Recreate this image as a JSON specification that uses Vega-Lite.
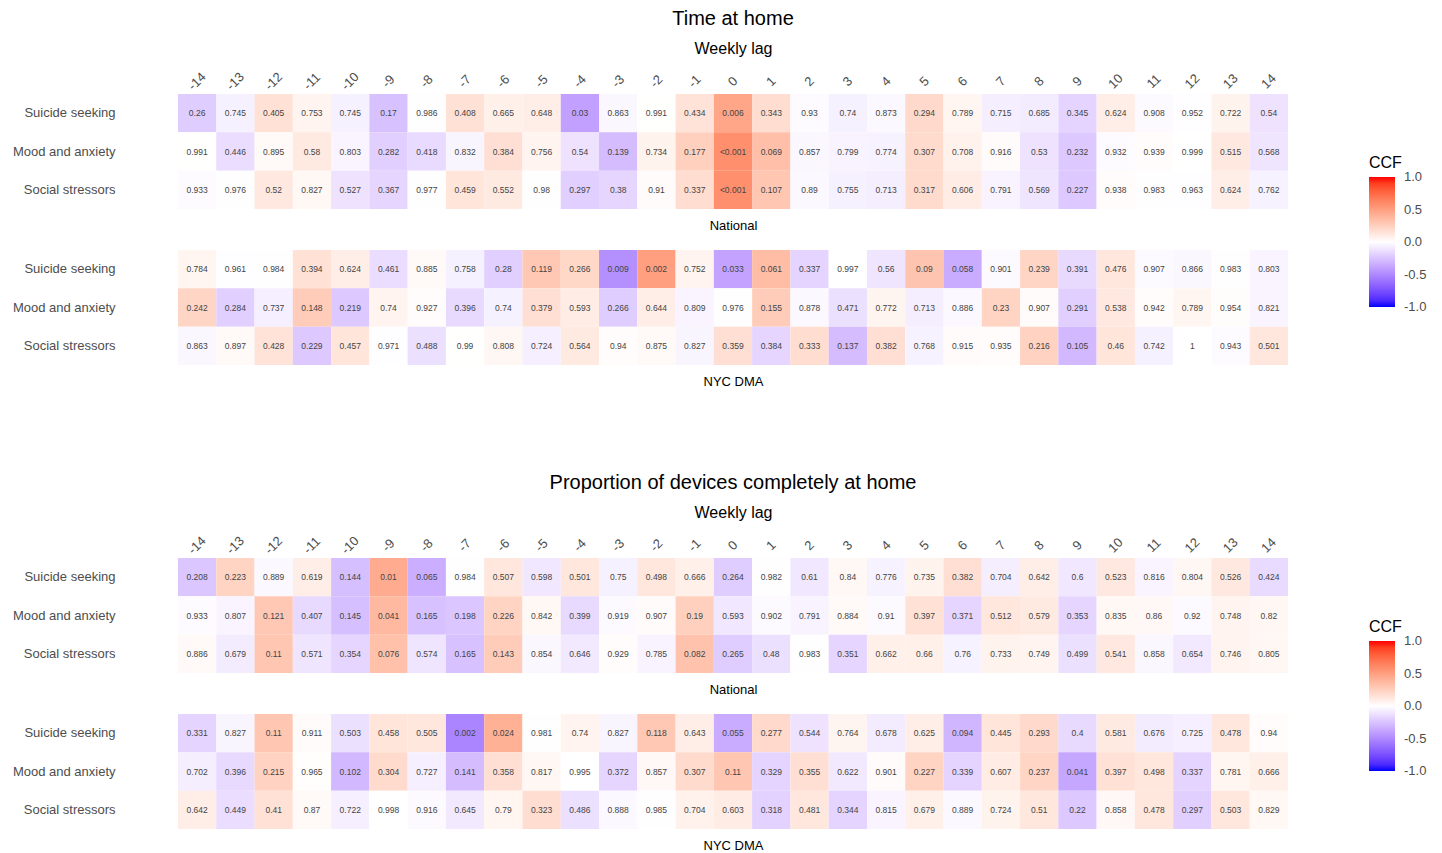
{
"$schema": "https://vega.github.io/schema/vega-lite/v6.json",
"padding": {"left": 12, "top": 9, "right": 5, "bottom": 5},
"config": {"font": "Liberation Sans", "view": {"stroke": null}},
"datasets": {"d": [
{"s":"T","g":"N","y":"Suicide seeking","lag":-14,"p":"0.26","c":-0.21},
{"s":"T","g":"N","y":"Suicide seeking","lag":-13,"p":"0.745","c":-0.06},
{"s":"T","g":"N","y":"Suicide seeking","lag":-12,"p":"0.405","c":0.16},
{"s":"T","g":"N","y":"Suicide seeking","lag":-11,"p":"0.753","c":0.06},
{"s":"T","g":"N","y":"Suicide seeking","lag":-10,"p":"0.745","c":-0.06},
{"s":"T","g":"N","y":"Suicide seeking","lag":-9,"p":"0.17","c":-0.26},
{"s":"T","g":"N","y":"Suicide seeking","lag":-8,"p":"0.986","c":0.005},
{"s":"T","g":"N","y":"Suicide seeking","lag":-7,"p":"0.408","c":0.16},
{"s":"T","g":"N","y":"Suicide seeking","lag":-6,"p":"0.665","c":0.08},
{"s":"T","g":"N","y":"Suicide seeking","lag":-5,"p":"0.648","c":0.09},
{"s":"T","g":"N","y":"Suicide seeking","lag":-4,"p":"0.03","c":-0.40},
{"s":"T","g":"N","y":"Suicide seeking","lag":-3,"p":"0.863","c":-0.035},
{"s":"T","g":"N","y":"Suicide seeking","lag":-2,"p":"0.991","c":0.002},
{"s":"T","g":"N","y":"Suicide seeking","lag":-1,"p":"0.434","c":0.15},
{"s":"T","g":"N","y":"Suicide seeking","lag":0,"p":"0.006","c":0.47},
{"s":"T","g":"N","y":"Suicide seeking","lag":1,"p":"0.343","c":0.18},
{"s":"T","g":"N","y":"Suicide seeking","lag":2,"p":"0.93","c":-0.015},
{"s":"T","g":"N","y":"Suicide seeking","lag":3,"p":"0.74","c":-0.06},
{"s":"T","g":"N","y":"Suicide seeking","lag":4,"p":"0.873","c":-0.027},
{"s":"T","g":"N","y":"Suicide seeking","lag":5,"p":"0.294","c":0.20},
{"s":"T","g":"N","y":"Suicide seeking","lag":6,"p":"0.789","c":0.05},
{"s":"T","g":"N","y":"Suicide seeking","lag":7,"p":"0.715","c":-0.07},
{"s":"T","g":"N","y":"Suicide seeking","lag":8,"p":"0.685","c":-0.08},
{"s":"T","g":"N","y":"Suicide seeking","lag":9,"p":"0.345","c":-0.18},
{"s":"T","g":"N","y":"Suicide seeking","lag":10,"p":"0.624","c":0.09},
{"s":"T","g":"N","y":"Suicide seeking","lag":11,"p":"0.908","c":-0.02},
{"s":"T","g":"N","y":"Suicide seeking","lag":12,"p":"0.952","c":-0.01},
{"s":"T","g":"N","y":"Suicide seeking","lag":13,"p":"0.722","c":0.065},
{"s":"T","g":"N","y":"Suicide seeking","lag":14,"p":"0.54","c":-0.12},
{"s":"T","g":"N","y":"Mood and anxiety","lag":-14,"p":"0.991","c":0.002},
{"s":"T","g":"N","y":"Mood and anxiety","lag":-13,"p":"0.446","c":-0.14},
{"s":"T","g":"N","y":"Mood and anxiety","lag":-12,"p":"0.895","c":0.027},
{"s":"T","g":"N","y":"Mood and anxiety","lag":-11,"p":"0.58","c":0.11},
{"s":"T","g":"N","y":"Mood and anxiety","lag":-10,"p":"0.803","c":-0.045},
{"s":"T","g":"N","y":"Mood and anxiety","lag":-9,"p":"0.282","c":-0.20},
{"s":"T","g":"N","y":"Mood and anxiety","lag":-8,"p":"0.418","c":-0.15},
{"s":"T","g":"N","y":"Mood and anxiety","lag":-7,"p":"0.832","c":-0.04},
{"s":"T","g":"N","y":"Mood and anxiety","lag":-6,"p":"0.384","c":0.17},
{"s":"T","g":"N","y":"Mood and anxiety","lag":-5,"p":"0.756","c":0.06},
{"s":"T","g":"N","y":"Mood and anxiety","lag":-4,"p":"0.54","c":-0.12},
{"s":"T","g":"N","y":"Mood and anxiety","lag":-3,"p":"0.139","c":-0.28},
{"s":"T","g":"N","y":"Mood and anxiety","lag":-2,"p":"0.734","c":0.065},
{"s":"T","g":"N","y":"Mood and anxiety","lag":-1,"p":"0.177","c":0.25},
{"s":"T","g":"N","y":"Mood and anxiety","lag":0,"p":"<0.001","c":0.58},
{"s":"T","g":"N","y":"Mood and anxiety","lag":1,"p":"0.069","c":0.34},
{"s":"T","g":"N","y":"Mood and anxiety","lag":2,"p":"0.857","c":-0.035},
{"s":"T","g":"N","y":"Mood and anxiety","lag":3,"p":"0.799","c":-0.05},
{"s":"T","g":"N","y":"Mood and anxiety","lag":4,"p":"0.774","c":-0.055},
{"s":"T","g":"N","y":"Mood and anxiety","lag":5,"p":"0.307","c":0.19},
{"s":"T","g":"N","y":"Mood and anxiety","lag":6,"p":"0.708","c":0.07},
{"s":"T","g":"N","y":"Mood and anxiety","lag":7,"p":"0.916","c":0.02},
{"s":"T","g":"N","y":"Mood and anxiety","lag":8,"p":"0.53","c":-0.12},
{"s":"T","g":"N","y":"Mood and anxiety","lag":9,"p":"0.232","c":-0.23},
{"s":"T","g":"N","y":"Mood and anxiety","lag":10,"p":"0.932","c":-0.015},
{"s":"T","g":"N","y":"Mood and anxiety","lag":11,"p":"0.939","c":0.015},
{"s":"T","g":"N","y":"Mood and anxiety","lag":12,"p":"0.999","c":0.0},
{"s":"T","g":"N","y":"Mood and anxiety","lag":13,"p":"0.515","c":0.12},
{"s":"T","g":"N","y":"Mood and anxiety","lag":14,"p":"0.568","c":-0.11},
{"s":"T","g":"N","y":"Social stressors","lag":-14,"p":"0.933","c":-0.015},
{"s":"T","g":"N","y":"Social stressors","lag":-13,"p":"0.976","c":0.005},
{"s":"T","g":"N","y":"Social stressors","lag":-12,"p":"0.52","c":0.12},
{"s":"T","g":"N","y":"Social stressors","lag":-11,"p":"0.827","c":0.04},
{"s":"T","g":"N","y":"Social stressors","lag":-10,"p":"0.527","c":-0.12},
{"s":"T","g":"N","y":"Social stressors","lag":-9,"p":"0.367","c":-0.17},
{"s":"T","g":"N","y":"Social stressors","lag":-8,"p":"0.977","c":0.005},
{"s":"T","g":"N","y":"Social stressors","lag":-7,"p":"0.459","c":0.14},
{"s":"T","g":"N","y":"Social stressors","lag":-6,"p":"0.552","c":0.11},
{"s":"T","g":"N","y":"Social stressors","lag":-5,"p":"0.98","c":0.005},
{"s":"T","g":"N","y":"Social stressors","lag":-4,"p":"0.297","c":-0.20},
{"s":"T","g":"N","y":"Social stressors","lag":-3,"p":"0.38","c":-0.17},
{"s":"T","g":"N","y":"Social stressors","lag":-2,"p":"0.91","c":0.02},
{"s":"T","g":"N","y":"Social stressors","lag":-1,"p":"0.337","c":0.18},
{"s":"T","g":"N","y":"Social stressors","lag":0,"p":"<0.001","c":0.58},
{"s":"T","g":"N","y":"Social stressors","lag":1,"p":"0.107","c":0.30},
{"s":"T","g":"N","y":"Social stressors","lag":2,"p":"0.89","c":-0.027},
{"s":"T","g":"N","y":"Social stressors","lag":3,"p":"0.755","c":-0.06},
{"s":"T","g":"N","y":"Social stressors","lag":4,"p":"0.713","c":-0.07},
{"s":"T","g":"N","y":"Social stressors","lag":5,"p":"0.317","c":0.19},
{"s":"T","g":"N","y":"Social stressors","lag":6,"p":"0.606","c":0.10},
{"s":"T","g":"N","y":"Social stressors","lag":7,"p":"0.791","c":-0.05},
{"s":"T","g":"N","y":"Social stressors","lag":8,"p":"0.569","c":-0.11},
{"s":"T","g":"N","y":"Social stressors","lag":9,"p":"0.227","c":-0.23},
{"s":"T","g":"N","y":"Social stressors","lag":10,"p":"0.938","c":0.015},
{"s":"T","g":"N","y":"Social stressors","lag":11,"p":"0.983","c":0.005},
{"s":"T","g":"N","y":"Social stressors","lag":12,"p":"0.963","c":-0.007},
{"s":"T","g":"N","y":"Social stressors","lag":13,"p":"0.624","c":0.09},
{"s":"T","g":"N","y":"Social stressors","lag":14,"p":"0.762","c":-0.055},
{"s":"T","g":"C","y":"Suicide seeking","lag":-14,"p":"0.784","c":0.05},
{"s":"T","g":"C","y":"Suicide seeking","lag":-13,"p":"0.961","c":-0.01},
{"s":"T","g":"C","y":"Suicide seeking","lag":-12,"p":"0.984","c":0.005},
{"s":"T","g":"C","y":"Suicide seeking","lag":-11,"p":"0.394","c":0.16},
{"s":"T","g":"C","y":"Suicide seeking","lag":-10,"p":"0.624","c":0.09},
{"s":"T","g":"C","y":"Suicide seeking","lag":-9,"p":"0.461","c":-0.14},
{"s":"T","g":"C","y":"Suicide seeking","lag":-8,"p":"0.885","c":0.027},
{"s":"T","g":"C","y":"Suicide seeking","lag":-7,"p":"0.758","c":-0.06},
{"s":"T","g":"C","y":"Suicide seeking","lag":-6,"p":"0.28","c":-0.20},
{"s":"T","g":"C","y":"Suicide seeking","lag":-5,"p":"0.119","c":0.29},
{"s":"T","g":"C","y":"Suicide seeking","lag":-4,"p":"0.266","c":0.21},
{"s":"T","g":"C","y":"Suicide seeking","lag":-3,"p":"0.009","c":-0.47},
{"s":"T","g":"C","y":"Suicide seeking","lag":-2,"p":"0.002","c":0.50},
{"s":"T","g":"C","y":"Suicide seeking","lag":-1,"p":"0.752","c":0.06},
{"s":"T","g":"C","y":"Suicide seeking","lag":0,"p":"0.033","c":-0.39},
{"s":"T","g":"C","y":"Suicide seeking","lag":1,"p":"0.061","c":0.35},
{"s":"T","g":"C","y":"Suicide seeking","lag":2,"p":"0.337","c":-0.18},
{"s":"T","g":"C","y":"Suicide seeking","lag":3,"p":"0.997","c":0.0},
{"s":"T","g":"C","y":"Suicide seeking","lag":4,"p":"0.56","c":-0.11},
{"s":"T","g":"C","y":"Suicide seeking","lag":5,"p":"0.09","c":0.31},
{"s":"T","g":"C","y":"Suicide seeking","lag":6,"p":"0.058","c":-0.35},
{"s":"T","g":"C","y":"Suicide seeking","lag":7,"p":"0.901","c":-0.02},
{"s":"T","g":"C","y":"Suicide seeking","lag":8,"p":"0.239","c":0.22},
{"s":"T","g":"C","y":"Suicide seeking","lag":9,"p":"0.391","c":-0.16},
{"s":"T","g":"C","y":"Suicide seeking","lag":10,"p":"0.476","c":0.13},
{"s":"T","g":"C","y":"Suicide seeking","lag":11,"p":"0.907","c":-0.02},
{"s":"T","g":"C","y":"Suicide seeking","lag":12,"p":"0.866","c":-0.035},
{"s":"T","g":"C","y":"Suicide seeking","lag":13,"p":"0.983","c":0.005},
{"s":"T","g":"C","y":"Suicide seeking","lag":14,"p":"0.803","c":-0.045},
{"s":"T","g":"C","y":"Mood and anxiety","lag":-14,"p":"0.242","c":0.22},
{"s":"T","g":"C","y":"Mood and anxiety","lag":-13,"p":"0.284","c":-0.20},
{"s":"T","g":"C","y":"Mood and anxiety","lag":-12,"p":"0.737","c":-0.065},
{"s":"T","g":"C","y":"Mood and anxiety","lag":-11,"p":"0.148","c":0.27},
{"s":"T","g":"C","y":"Mood and anxiety","lag":-10,"p":"0.219","c":-0.23},
{"s":"T","g":"C","y":"Mood and anxiety","lag":-9,"p":"0.74","c":0.06},
{"s":"T","g":"C","y":"Mood and anxiety","lag":-8,"p":"0.927","c":0.015},
{"s":"T","g":"C","y":"Mood and anxiety","lag":-7,"p":"0.396","c":-0.16},
{"s":"T","g":"C","y":"Mood and anxiety","lag":-6,"p":"0.74","c":-0.06},
{"s":"T","g":"C","y":"Mood and anxiety","lag":-5,"p":"0.379","c":0.17},
{"s":"T","g":"C","y":"Mood and anxiety","lag":-4,"p":"0.593","c":0.10},
{"s":"T","g":"C","y":"Mood and anxiety","lag":-3,"p":"0.266","c":-0.21},
{"s":"T","g":"C","y":"Mood and anxiety","lag":-2,"p":"0.644","c":0.09},
{"s":"T","g":"C","y":"Mood and anxiety","lag":-1,"p":"0.809","c":-0.045},
{"s":"T","g":"C","y":"Mood and anxiety","lag":0,"p":"0.976","c":0.005},
{"s":"T","g":"C","y":"Mood and anxiety","lag":1,"p":"0.155","c":0.27},
{"s":"T","g":"C","y":"Mood and anxiety","lag":2,"p":"0.878","c":-0.027},
{"s":"T","g":"C","y":"Mood and anxiety","lag":3,"p":"0.471","c":-0.13},
{"s":"T","g":"C","y":"Mood and anxiety","lag":4,"p":"0.772","c":0.055},
{"s":"T","g":"C","y":"Mood and anxiety","lag":5,"p":"0.713","c":-0.07},
{"s":"T","g":"C","y":"Mood and anxiety","lag":6,"p":"0.886","c":-0.027},
{"s":"T","g":"C","y":"Mood and anxiety","lag":7,"p":"0.23","c":0.23},
{"s":"T","g":"C","y":"Mood and anxiety","lag":8,"p":"0.907","c":0.02},
{"s":"T","g":"C","y":"Mood and anxiety","lag":9,"p":"0.291","c":-0.20},
{"s":"T","g":"C","y":"Mood and anxiety","lag":10,"p":"0.538","c":0.12},
{"s":"T","g":"C","y":"Mood and anxiety","lag":11,"p":"0.942","c":0.015},
{"s":"T","g":"C","y":"Mood and anxiety","lag":12,"p":"0.789","c":0.05},
{"s":"T","g":"C","y":"Mood and anxiety","lag":13,"p":"0.954","c":0.01},
{"s":"T","g":"C","y":"Mood and anxiety","lag":14,"p":"0.821","c":-0.045},
{"s":"T","g":"C","y":"Social stressors","lag":-14,"p":"0.863","c":-0.035},
{"s":"T","g":"C","y":"Social stressors","lag":-13,"p":"0.897","c":0.027},
{"s":"T","g":"C","y":"Social stressors","lag":-12,"p":"0.428","c":0.15},
{"s":"T","g":"C","y":"Social stressors","lag":-11,"p":"0.229","c":-0.23},
{"s":"T","g":"C","y":"Social stressors","lag":-10,"p":"0.457","c":0.14},
{"s":"T","g":"C","y":"Social stressors","lag":-9,"p":"0.971","c":-0.007},
{"s":"T","g":"C","y":"Social stressors","lag":-8,"p":"0.488","c":-0.13},
{"s":"T","g":"C","y":"Social stressors","lag":-7,"p":"0.99","c":0.002},
{"s":"T","g":"C","y":"Social stressors","lag":-6,"p":"0.808","c":0.045},
{"s":"T","g":"C","y":"Social stressors","lag":-5,"p":"0.724","c":-0.065},
{"s":"T","g":"C","y":"Social stressors","lag":-4,"p":"0.564","c":0.11},
{"s":"T","g":"C","y":"Social stressors","lag":-3,"p":"0.94","c":0.015},
{"s":"T","g":"C","y":"Social stressors","lag":-2,"p":"0.875","c":0.027},
{"s":"T","g":"C","y":"Social stressors","lag":-1,"p":"0.827","c":-0.04},
{"s":"T","g":"C","y":"Social stressors","lag":0,"p":"0.359","c":0.17},
{"s":"T","g":"C","y":"Social stressors","lag":1,"p":"0.384","c":-0.17},
{"s":"T","g":"C","y":"Social stressors","lag":2,"p":"0.333","c":0.18},
{"s":"T","g":"C","y":"Social stressors","lag":3,"p":"0.137","c":-0.28},
{"s":"T","g":"C","y":"Social stressors","lag":4,"p":"0.382","c":0.17},
{"s":"T","g":"C","y":"Social stressors","lag":5,"p":"0.768","c":-0.055},
{"s":"T","g":"C","y":"Social stressors","lag":6,"p":"0.915","c":0.02},
{"s":"T","g":"C","y":"Social stressors","lag":7,"p":"0.935","c":0.015},
{"s":"T","g":"C","y":"Social stressors","lag":8,"p":"0.216","c":0.24},
{"s":"T","g":"C","y":"Social stressors","lag":9,"p":"0.105","c":-0.30},
{"s":"T","g":"C","y":"Social stressors","lag":10,"p":"0.46","c":0.14},
{"s":"T","g":"C","y":"Social stressors","lag":11,"p":"0.742","c":-0.06},
{"s":"T","g":"C","y":"Social stressors","lag":12,"p":"1","c":0.0},
{"s":"T","g":"C","y":"Social stressors","lag":13,"p":"0.943","c":-0.015},
{"s":"T","g":"C","y":"Social stressors","lag":14,"p":"0.501","c":0.13},
{"s":"P","g":"N","y":"Suicide seeking","lag":-14,"p":"0.208","c":-0.24},
{"s":"P","g":"N","y":"Suicide seeking","lag":-13,"p":"0.223","c":0.23},
{"s":"P","g":"N","y":"Suicide seeking","lag":-12,"p":"0.889","c":-0.027},
{"s":"P","g":"N","y":"Suicide seeking","lag":-11,"p":"0.619","c":0.09},
{"s":"P","g":"N","y":"Suicide seeking","lag":-10,"p":"0.144","c":-0.27},
{"s":"P","g":"N","y":"Suicide seeking","lag":-9,"p":"0.01","c":0.44},
{"s":"P","g":"N","y":"Suicide seeking","lag":-8,"p":"0.065","c":-0.34},
{"s":"P","g":"N","y":"Suicide seeking","lag":-7,"p":"0.984","c":0.005},
{"s":"P","g":"N","y":"Suicide seeking","lag":-6,"p":"0.507","c":0.13},
{"s":"P","g":"N","y":"Suicide seeking","lag":-5,"p":"0.598","c":-0.10},
{"s":"P","g":"N","y":"Suicide seeking","lag":-4,"p":"0.501","c":0.13},
{"s":"P","g":"N","y":"Suicide seeking","lag":-3,"p":"0.75","c":-0.06},
{"s":"P","g":"N","y":"Suicide seeking","lag":-2,"p":"0.498","c":0.13},
{"s":"P","g":"N","y":"Suicide seeking","lag":-1,"p":"0.666","c":0.08},
{"s":"P","g":"N","y":"Suicide seeking","lag":0,"p":"0.264","c":-0.21},
{"s":"P","g":"N","y":"Suicide seeking","lag":1,"p":"0.982","c":0.005},
{"s":"P","g":"N","y":"Suicide seeking","lag":2,"p":"0.61","c":-0.10},
{"s":"P","g":"N","y":"Suicide seeking","lag":3,"p":"0.84","c":0.04},
{"s":"P","g":"N","y":"Suicide seeking","lag":4,"p":"0.776","c":-0.055},
{"s":"P","g":"N","y":"Suicide seeking","lag":5,"p":"0.735","c":0.065},
{"s":"P","g":"N","y":"Suicide seeking","lag":6,"p":"0.382","c":0.17},
{"s":"P","g":"N","y":"Suicide seeking","lag":7,"p":"0.704","c":-0.07},
{"s":"P","g":"N","y":"Suicide seeking","lag":8,"p":"0.642","c":0.09},
{"s":"P","g":"N","y":"Suicide seeking","lag":9,"p":"0.6","c":-0.10},
{"s":"P","g":"N","y":"Suicide seeking","lag":10,"p":"0.523","c":0.12},
{"s":"P","g":"N","y":"Suicide seeking","lag":11,"p":"0.816","c":-0.045},
{"s":"P","g":"N","y":"Suicide seeking","lag":12,"p":"0.804","c":0.045},
{"s":"P","g":"N","y":"Suicide seeking","lag":13,"p":"0.526","c":0.12},
{"s":"P","g":"N","y":"Suicide seeking","lag":14,"p":"0.424","c":-0.15},
{"s":"P","g":"N","y":"Mood and anxiety","lag":-14,"p":"0.933","c":-0.015},
{"s":"P","g":"N","y":"Mood and anxiety","lag":-13,"p":"0.807","c":-0.045},
{"s":"P","g":"N","y":"Mood and anxiety","lag":-12,"p":"0.121","c":0.29},
{"s":"P","g":"N","y":"Mood and anxiety","lag":-11,"p":"0.407","c":-0.16},
{"s":"P","g":"N","y":"Mood and anxiety","lag":-10,"p":"0.145","c":-0.27},
{"s":"P","g":"N","y":"Mood and anxiety","lag":-9,"p":"0.041","c":0.37},
{"s":"P","g":"N","y":"Mood and anxiety","lag":-8,"p":"0.165","c":-0.26},
{"s":"P","g":"N","y":"Mood and anxiety","lag":-7,"p":"0.198","c":-0.24},
{"s":"P","g":"N","y":"Mood and anxiety","lag":-6,"p":"0.226","c":0.23},
{"s":"P","g":"N","y":"Mood and anxiety","lag":-5,"p":"0.842","c":0.04},
{"s":"P","g":"N","y":"Mood and anxiety","lag":-4,"p":"0.399","c":-0.16},
{"s":"P","g":"N","y":"Mood and anxiety","lag":-3,"p":"0.919","c":-0.02},
{"s":"P","g":"N","y":"Mood and anxiety","lag":-2,"p":"0.907","c":0.02},
{"s":"P","g":"N","y":"Mood and anxiety","lag":-1,"p":"0.19","c":0.25},
{"s":"P","g":"N","y":"Mood and anxiety","lag":0,"p":"0.593","c":-0.10},
{"s":"P","g":"N","y":"Mood and anxiety","lag":1,"p":"0.902","c":-0.02},
{"s":"P","g":"N","y":"Mood and anxiety","lag":2,"p":"0.791","c":-0.05},
{"s":"P","g":"N","y":"Mood and anxiety","lag":3,"p":"0.884","c":0.027},
{"s":"P","g":"N","y":"Mood and anxiety","lag":4,"p":"0.91","c":-0.02},
{"s":"P","g":"N","y":"Mood and anxiety","lag":5,"p":"0.397","c":0.16},
{"s":"P","g":"N","y":"Mood and anxiety","lag":6,"p":"0.371","c":-0.17},
{"s":"P","g":"N","y":"Mood and anxiety","lag":7,"p":"0.512","c":0.13},
{"s":"P","g":"N","y":"Mood and anxiety","lag":8,"p":"0.579","c":0.11},
{"s":"P","g":"N","y":"Mood and anxiety","lag":9,"p":"0.353","c":-0.17},
{"s":"P","g":"N","y":"Mood and anxiety","lag":10,"p":"0.835","c":0.04},
{"s":"P","g":"N","y":"Mood and anxiety","lag":11,"p":"0.86","c":0.035},
{"s":"P","g":"N","y":"Mood and anxiety","lag":12,"p":"0.92","c":-0.02},
{"s":"P","g":"N","y":"Mood and anxiety","lag":13,"p":"0.748","c":0.06},
{"s":"P","g":"N","y":"Mood and anxiety","lag":14,"p":"0.82","c":0.045},
{"s":"P","g":"N","y":"Social stressors","lag":-14,"p":"0.886","c":0.027},
{"s":"P","g":"N","y":"Social stressors","lag":-13,"p":"0.679","c":-0.08},
{"s":"P","g":"N","y":"Social stressors","lag":-12,"p":"0.11","c":0.30},
{"s":"P","g":"N","y":"Social stressors","lag":-11,"p":"0.571","c":-0.11},
{"s":"P","g":"N","y":"Social stressors","lag":-10,"p":"0.354","c":-0.17},
{"s":"P","g":"N","y":"Social stressors","lag":-9,"p":"0.076","c":0.33},
{"s":"P","g":"N","y":"Social stressors","lag":-8,"p":"0.574","c":-0.11},
{"s":"P","g":"N","y":"Social stressors","lag":-7,"p":"0.165","c":-0.26},
{"s":"P","g":"N","y":"Social stressors","lag":-6,"p":"0.143","c":0.27},
{"s":"P","g":"N","y":"Social stressors","lag":-5,"p":"0.854","c":-0.035},
{"s":"P","g":"N","y":"Social stressors","lag":-4,"p":"0.646","c":-0.09},
{"s":"P","g":"N","y":"Social stressors","lag":-3,"p":"0.929","c":0.015},
{"s":"P","g":"N","y":"Social stressors","lag":-2,"p":"0.785","c":-0.05},
{"s":"P","g":"N","y":"Social stressors","lag":-1,"p":"0.082","c":0.32},
{"s":"P","g":"N","y":"Social stressors","lag":0,"p":"0.265","c":-0.21},
{"s":"P","g":"N","y":"Social stressors","lag":1,"p":"0.48","c":-0.13},
{"s":"P","g":"N","y":"Social stressors","lag":2,"p":"0.983","c":0.005},
{"s":"P","g":"N","y":"Social stressors","lag":3,"p":"0.351","c":-0.17},
{"s":"P","g":"N","y":"Social stressors","lag":4,"p":"0.662","c":0.08},
{"s":"P","g":"N","y":"Social stressors","lag":5,"p":"0.66","c":0.08},
{"s":"P","g":"N","y":"Social stressors","lag":6,"p":"0.76","c":-0.055},
{"s":"P","g":"N","y":"Social stressors","lag":7,"p":"0.733","c":0.065},
{"s":"P","g":"N","y":"Social stressors","lag":8,"p":"0.749","c":0.06},
{"s":"P","g":"N","y":"Social stressors","lag":9,"p":"0.499","c":-0.13},
{"s":"P","g":"N","y":"Social stressors","lag":10,"p":"0.541","c":0.12},
{"s":"P","g":"N","y":"Social stressors","lag":11,"p":"0.858","c":-0.035},
{"s":"P","g":"N","y":"Social stressors","lag":12,"p":"0.654","c":-0.09},
{"s":"P","g":"N","y":"Social stressors","lag":13,"p":"0.746","c":0.06},
{"s":"P","g":"N","y":"Social stressors","lag":14,"p":"0.805","c":0.045},
{"s":"P","g":"C","y":"Suicide seeking","lag":-14,"p":"0.331","c":-0.18},
{"s":"P","g":"C","y":"Suicide seeking","lag":-13,"p":"0.827","c":-0.04},
{"s":"P","g":"C","y":"Suicide seeking","lag":-12,"p":"0.11","c":0.30},
{"s":"P","g":"C","y":"Suicide seeking","lag":-11,"p":"0.911","c":0.02},
{"s":"P","g":"C","y":"Suicide seeking","lag":-10,"p":"0.503","c":-0.13},
{"s":"P","g":"C","y":"Suicide seeking","lag":-9,"p":"0.458","c":0.14},
{"s":"P","g":"C","y":"Suicide seeking","lag":-8,"p":"0.505","c":0.13},
{"s":"P","g":"C","y":"Suicide seeking","lag":-7,"p":"0.002","c":-0.52},
{"s":"P","g":"C","y":"Suicide seeking","lag":-6,"p":"0.024","c":0.41},
{"s":"P","g":"C","y":"Suicide seeking","lag":-5,"p":"0.981","c":0.005},
{"s":"P","g":"C","y":"Suicide seeking","lag":-4,"p":"0.74","c":0.06},
{"s":"P","g":"C","y":"Suicide seeking","lag":-3,"p":"0.827","c":-0.04},
{"s":"P","g":"C","y":"Suicide seeking","lag":-2,"p":"0.118","c":0.29},
{"s":"P","g":"C","y":"Suicide seeking","lag":-1,"p":"0.643","c":0.09},
{"s":"P","g":"C","y":"Suicide seeking","lag":0,"p":"0.055","c":-0.35},
{"s":"P","g":"C","y":"Suicide seeking","lag":1,"p":"0.277","c":0.20},
{"s":"P","g":"C","y":"Suicide seeking","lag":2,"p":"0.544","c":-0.12},
{"s":"P","g":"C","y":"Suicide seeking","lag":3,"p":"0.764","c":0.055},
{"s":"P","g":"C","y":"Suicide seeking","lag":4,"p":"0.678","c":-0.08},
{"s":"P","g":"C","y":"Suicide seeking","lag":5,"p":"0.625","c":0.09},
{"s":"P","g":"C","y":"Suicide seeking","lag":6,"p":"0.094","c":-0.31},
{"s":"P","g":"C","y":"Suicide seeking","lag":7,"p":"0.445","c":0.14},
{"s":"P","g":"C","y":"Suicide seeking","lag":8,"p":"0.293","c":0.20},
{"s":"P","g":"C","y":"Suicide seeking","lag":9,"p":"0.4","c":-0.16},
{"s":"P","g":"C","y":"Suicide seeking","lag":10,"p":"0.581","c":0.11},
{"s":"P","g":"C","y":"Suicide seeking","lag":11,"p":"0.676","c":-0.08},
{"s":"P","g":"C","y":"Suicide seeking","lag":12,"p":"0.725","c":-0.065},
{"s":"P","g":"C","y":"Suicide seeking","lag":13,"p":"0.478","c":0.13},
{"s":"P","g":"C","y":"Suicide seeking","lag":14,"p":"0.94","c":0.015},
{"s":"P","g":"C","y":"Mood and anxiety","lag":-14,"p":"0.702","c":-0.07},
{"s":"P","g":"C","y":"Mood and anxiety","lag":-13,"p":"0.396","c":-0.16},
{"s":"P","g":"C","y":"Mood and anxiety","lag":-12,"p":"0.215","c":0.24},
{"s":"P","g":"C","y":"Mood and anxiety","lag":-11,"p":"0.965","c":0.007},
{"s":"P","g":"C","y":"Mood and anxiety","lag":-10,"p":"0.102","c":-0.30},
{"s":"P","g":"C","y":"Mood and anxiety","lag":-9,"p":"0.304","c":0.19},
{"s":"P","g":"C","y":"Mood and anxiety","lag":-8,"p":"0.727","c":-0.065},
{"s":"P","g":"C","y":"Mood and anxiety","lag":-7,"p":"0.141","c":-0.28},
{"s":"P","g":"C","y":"Mood and anxiety","lag":-6,"p":"0.358","c":0.17},
{"s":"P","g":"C","y":"Mood and anxiety","lag":-5,"p":"0.817","c":0.045},
{"s":"P","g":"C","y":"Mood and anxiety","lag":-4,"p":"0.995","c":0.001},
{"s":"P","g":"C","y":"Mood and anxiety","lag":-3,"p":"0.372","c":-0.17},
{"s":"P","g":"C","y":"Mood and anxiety","lag":-2,"p":"0.857","c":0.035},
{"s":"P","g":"C","y":"Mood and anxiety","lag":-1,"p":"0.307","c":0.19},
{"s":"P","g":"C","y":"Mood and anxiety","lag":0,"p":"0.11","c":0.30},
{"s":"P","g":"C","y":"Mood and anxiety","lag":1,"p":"0.329","c":-0.18},
{"s":"P","g":"C","y":"Mood and anxiety","lag":2,"p":"0.355","c":0.17},
{"s":"P","g":"C","y":"Mood and anxiety","lag":3,"p":"0.622","c":-0.09},
{"s":"P","g":"C","y":"Mood and anxiety","lag":4,"p":"0.901","c":0.02},
{"s":"P","g":"C","y":"Mood and anxiety","lag":5,"p":"0.227","c":0.23},
{"s":"P","g":"C","y":"Mood and anxiety","lag":6,"p":"0.339","c":-0.18},
{"s":"P","g":"C","y":"Mood and anxiety","lag":7,"p":"0.607","c":0.10},
{"s":"P","g":"C","y":"Mood and anxiety","lag":8,"p":"0.237","c":0.22},
{"s":"P","g":"C","y":"Mood and anxiety","lag":9,"p":"0.041","c":-0.37},
{"s":"P","g":"C","y":"Mood and anxiety","lag":10,"p":"0.397","c":0.16},
{"s":"P","g":"C","y":"Mood and anxiety","lag":11,"p":"0.498","c":0.13},
{"s":"P","g":"C","y":"Mood and anxiety","lag":12,"p":"0.337","c":-0.18},
{"s":"P","g":"C","y":"Mood and anxiety","lag":13,"p":"0.781","c":0.05},
{"s":"P","g":"C","y":"Mood and anxiety","lag":14,"p":"0.666","c":0.08},
{"s":"P","g":"C","y":"Social stressors","lag":-14,"p":"0.642","c":0.09},
{"s":"P","g":"C","y":"Social stressors","lag":-13,"p":"0.449","c":-0.14},
{"s":"P","g":"C","y":"Social stressors","lag":-12,"p":"0.41","c":0.16},
{"s":"P","g":"C","y":"Social stressors","lag":-11,"p":"0.87","c":0.027},
{"s":"P","g":"C","y":"Social stressors","lag":-10,"p":"0.722","c":-0.065},
{"s":"P","g":"C","y":"Social stressors","lag":-9,"p":"0.998","c":0.0},
{"s":"P","g":"C","y":"Social stressors","lag":-8,"p":"0.916","c":-0.02},
{"s":"P","g":"C","y":"Social stressors","lag":-7,"p":"0.645","c":-0.09},
{"s":"P","g":"C","y":"Social stressors","lag":-6,"p":"0.79","c":0.05},
{"s":"P","g":"C","y":"Social stressors","lag":-5,"p":"0.323","c":0.18},
{"s":"P","g":"C","y":"Social stressors","lag":-4,"p":"0.486","c":-0.13},
{"s":"P","g":"C","y":"Social stressors","lag":-3,"p":"0.888","c":-0.027},
{"s":"P","g":"C","y":"Social stressors","lag":-2,"p":"0.985","c":0.005},
{"s":"P","g":"C","y":"Social stressors","lag":-1,"p":"0.704","c":0.07},
{"s":"P","g":"C","y":"Social stressors","lag":0,"p":"0.603","c":0.10},
{"s":"P","g":"C","y":"Social stressors","lag":1,"p":"0.318","c":-0.19},
{"s":"P","g":"C","y":"Social stressors","lag":2,"p":"0.481","c":0.13},
{"s":"P","g":"C","y":"Social stressors","lag":3,"p":"0.344","c":-0.18},
{"s":"P","g":"C","y":"Social stressors","lag":4,"p":"0.815","c":-0.045},
{"s":"P","g":"C","y":"Social stressors","lag":5,"p":"0.679","c":0.08},
{"s":"P","g":"C","y":"Social stressors","lag":6,"p":"0.889","c":-0.027},
{"s":"P","g":"C","y":"Social stressors","lag":7,"p":"0.724","c":0.065},
{"s":"P","g":"C","y":"Social stressors","lag":8,"p":"0.51","c":0.13},
{"s":"P","g":"C","y":"Social stressors","lag":9,"p":"0.22","c":-0.23},
{"s":"P","g":"C","y":"Social stressors","lag":10,"p":"0.858","c":0.035},
{"s":"P","g":"C","y":"Social stressors","lag":11,"p":"0.478","c":0.13},
{"s":"P","g":"C","y":"Social stressors","lag":12,"p":"0.297","c":-0.20},
{"s":"P","g":"C","y":"Social stressors","lag":13,"p":"0.503","c":0.13},
{"s":"P","g":"C","y":"Social stressors","lag":14,"p":"0.829","c":0.04}
]},
"vconcat": [
{
"spacing": 18,
"resolve": {"scale": {"color": "shared"}},
"vconcat": [
{
"title": {"text": "Time at home", "fontSize": 20, "fontWeight": "normal", "anchor": "middle", "frame": "group", "offset": 11, "color": "#000"},
"width": 1110, "height": 115,
"data": {"name": "d"},
"transform": [{"filter": "datum.s === 'T' && datum.g === 'N'"}],
"encoding": {"y": {"field": "y", "type": "nominal", "sort": ["Suicide seeking", "Mood and anxiety", "Social stressors"], "axis": {"title": null, "ticks": false, "domain": false, "labelFontSize": 13, "labelColor": "#4d4d4d", "labelPadding": 63}}},
"layer": [
{"mark": {"type": "rect"}, "encoding": {
"x": {"field": "lag", "type": "ordinal", "axis": {"orient": "top", "title": "Weekly lag", "titleFontSize": 16, "titleFontWeight": "normal", "titleColor": "#000", "titlePadding": 14, "labelAngle": -45, "labelAlign": "center", "labelBaseline": "middle", "labelPadding": 13, "labelFontSize": 13, "labelColor": "#4d4d4d", "ticks": false, "domain": false}},
"color": {"field": "c", "type": "quantitative", "scale": {"domain": [-1, 0, 1], "range": ["blue", "white", "red"], "interpolate": "lab"},
"legend": {"title": "CCF", "orient": "none", "legendX": 1191, "legendY": 61, "direction": "vertical", "gradientLength": 130, "gradientThickness": 26, "titleFontSize": 16, "titleFontWeight": "normal", "titleColor": "#000", "titlePadding": 6, "labelFontSize": 13, "labelOffset": 9, "labelColor": "#4d4d4d", "values": [1, 0.5, 0, -0.5, -1], "labelExpr": "replace(format(datum.value, '.1f'), '\u2212', '-')", "encode": {"labels": {"update": {"baseline": {"value": "middle"}}}}}}}},
{"mark": {"type": "text", "fontSize": 8.5, "font": "Liberation Sans Narrow, Liberation Sans", "color": "#444"}, "encoding": {
"x": {"field": "lag", "type": "ordinal", "axis": {"orient": "bottom", "title": "National", "labels": false, "ticks": false, "domain": false, "titleFontSize": 13, "titleFontWeight": "normal", "titleColor": "#000", "titlePadding": 10}},
"text": {"field": "p"}}}
],
"resolve": {"axis": {"x": "independent"}}
},
{
"width": 1110, "height": 115,
"data": {"name": "d"},
"transform": [{"filter": "datum.s === 'T' && datum.g === 'C'"}],
"encoding": {"y": {"field": "y", "type": "nominal", "sort": ["Suicide seeking", "Mood and anxiety", "Social stressors"], "axis": {"title": null, "ticks": false, "domain": false, "labelFontSize": 13, "labelColor": "#4d4d4d", "labelPadding": 63}}},
"layer": [
{"mark": {"type": "rect"}, "encoding": {
"x": {"field": "lag", "type": "ordinal", "axis": null},
"color": {"field": "c", "type": "quantitative", "scale": {"domain": [-1, 0, 1], "range": ["blue", "white", "red"], "interpolate": "lab"}}}},
{"mark": {"type": "text", "fontSize": 8.5, "font": "Liberation Sans Narrow, Liberation Sans", "color": "#444"}, "encoding": {
"x": {"field": "lag", "type": "ordinal", "axis": {"orient": "bottom", "title": "NYC DMA", "labels": false, "ticks": false, "domain": false, "titleFontSize": 13, "titleFontWeight": "normal", "titleColor": "#000", "titlePadding": 10}},
"text": {"field": "p"}}}
],
"resolve": {"axis": {"x": "independent"}}
}
]
},
{
"spacing": 18,
"resolve": {"scale": {"color": "shared"}},
"vconcat": [
{
"title": {"text": "Proportion of devices completely at home", "fontSize": 20, "fontWeight": "normal", "anchor": "middle", "frame": "group", "offset": 11, "color": "#000"},
"width": 1110, "height": 115,
"data": {"name": "d"},
"transform": [{"filter": "datum.s === 'P' && datum.g === 'N'"}],
"encoding": {"y": {"field": "y", "type": "nominal", "sort": ["Suicide seeking", "Mood and anxiety", "Social stressors"], "axis": {"title": null, "ticks": false, "domain": false, "labelFontSize": 13, "labelColor": "#4d4d4d", "labelPadding": 63}}},
"layer": [
{"mark": {"type": "rect"}, "encoding": {
"x": {"field": "lag", "type": "ordinal", "axis": {"orient": "top", "title": "Weekly lag", "titleFontSize": 16, "titleFontWeight": "normal", "titleColor": "#000", "titlePadding": 14, "labelAngle": -45, "labelAlign": "center", "labelBaseline": "middle", "labelPadding": 13, "labelFontSize": 13, "labelColor": "#4d4d4d", "ticks": false, "domain": false}},
"color": {"field": "c", "type": "quantitative", "scale": {"domain": [-1, 0, 1], "range": ["blue", "white", "red"], "interpolate": "lab"},
"legend": {"title": "CCF", "orient": "none", "legendX": 1191, "legendY": 61, "direction": "vertical", "gradientLength": 130, "gradientThickness": 26, "titleFontSize": 16, "titleFontWeight": "normal", "titleColor": "#000", "titlePadding": 6, "labelFontSize": 13, "labelOffset": 9, "labelColor": "#4d4d4d", "values": [1, 0.5, 0, -0.5, -1], "labelExpr": "replace(format(datum.value, '.1f'), '\u2212', '-')", "encode": {"labels": {"update": {"baseline": {"value": "middle"}}}}}}}},
{"mark": {"type": "text", "fontSize": 8.5, "font": "Liberation Sans Narrow, Liberation Sans", "color": "#444"}, "encoding": {
"x": {"field": "lag", "type": "ordinal", "axis": {"orient": "bottom", "title": "National", "labels": false, "ticks": false, "domain": false, "titleFontSize": 13, "titleFontWeight": "normal", "titleColor": "#000", "titlePadding": 10}},
"text": {"field": "p"}}}
],
"resolve": {"axis": {"x": "independent"}}
},
{
"width": 1110, "height": 115,
"data": {"name": "d"},
"transform": [{"filter": "datum.s === 'P' && datum.g === 'C'"}],
"encoding": {"y": {"field": "y", "type": "nominal", "sort": ["Suicide seeking", "Mood and anxiety", "Social stressors"], "axis": {"title": null, "ticks": false, "domain": false, "labelFontSize": 13, "labelColor": "#4d4d4d", "labelPadding": 63}}},
"layer": [
{"mark": {"type": "rect"}, "encoding": {
"x": {"field": "lag", "type": "ordinal", "axis": null},
"color": {"field": "c", "type": "quantitative", "scale": {"domain": [-1, 0, 1], "range": ["blue", "white", "red"], "interpolate": "lab"}}}},
{"mark": {"type": "text", "fontSize": 8.5, "font": "Liberation Sans Narrow, Liberation Sans", "color": "#444"}, "encoding": {
"x": {"field": "lag", "type": "ordinal", "axis": {"orient": "bottom", "title": "NYC DMA", "labels": false, "ticks": false, "domain": false, "titleFontSize": 13, "titleFontWeight": "normal", "titleColor": "#000", "titlePadding": 10}},
"text": {"field": "p"}}}
],
"resolve": {"axis": {"x": "independent"}}
}
]
}
],
"spacing": 85,
"resolve": {"scale": {"color": "independent"}}
}
